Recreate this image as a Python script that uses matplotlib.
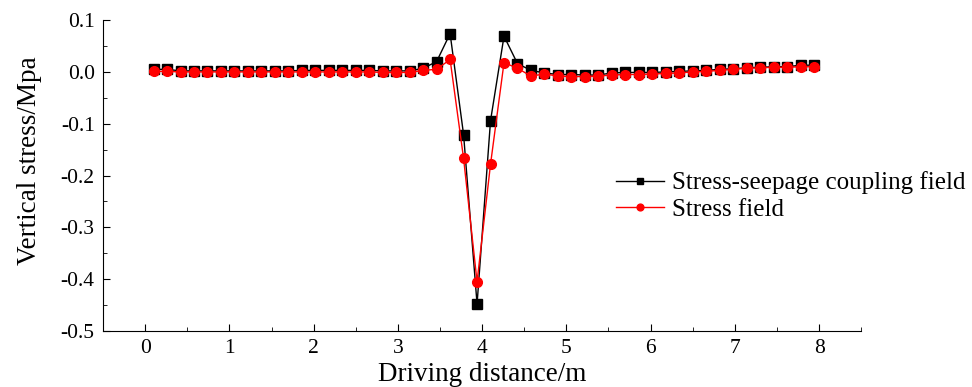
import matplotlib
matplotlib.use('Agg')
import matplotlib.pyplot as plt
from matplotlib.ticker import MultipleLocator, FuncFormatter

plt.rcParams['font.family'] = ['Liberation Serif', 'DejaVu Serif']

# distancia de avance (m)
distance = [0.10, 0.26, 0.42, 0.58, 0.74, 0.90, 1.06, 1.22, 1.38, 1.54,
            1.70, 1.86, 2.02, 2.18, 2.34, 2.50, 2.66, 2.82, 2.98, 3.14,
            3.30, 3.46, 3.62, 3.78, 3.94, 4.10, 4.26, 4.42, 4.58, 4.74,
            4.90, 5.06, 5.22, 5.38, 5.54, 5.70, 5.86, 6.02, 6.18, 6.34,
            6.50, 6.66, 6.82, 6.98, 7.14, 7.30, 7.46, 7.62, 7.78, 7.94]

coupling = [0.005, 0.005, 0.002, 0.002, 0.002, 0.002, 0.002, 0.002, 0.002, 0.002,
            0.002, 0.003, 0.003, 0.003, 0.003, 0.003, 0.003, 0.002, 0.002, 0.002,
            0.007, 0.020, 0.074, -0.121, -0.448, -0.094, 0.069, 0.016, 0.003, -0.002,
            -0.005, -0.005, -0.006, -0.006, -0.002, -0.001, -0.001, -0.001, 0.000, 0.001,
            0.002, 0.003, 0.005, 0.006, 0.008, 0.009, 0.010, 0.010, 0.013, 0.013]

stress = [0.001, 0.001, 0.000, 0.000, 0.000, 0.000, 0.000, 0.000, 0.000, 0.000,
          0.000, 0.000, 0.000, 0.000, 0.000, 0.000, 0.000, -0.001, -0.001, -0.001,
          0.003, 0.005, 0.024, -0.167, -0.405, -0.178, 0.018, 0.007, -0.008, -0.004,
          -0.008, -0.009, -0.009, -0.008, -0.006, -0.005, -0.005, -0.004, -0.003, -0.002,
          0.000, 0.001, 0.003, 0.005, 0.007, 0.008, 0.009, 0.009, 0.010, 0.010]

fig = plt.figure(figsize=(9.72, 3.87), dpi=100)
ax = fig.add_axes([0.106, 0.145, 0.780, 0.803])

ax.plot(distance, coupling, color='black', lw=1.0, marker='s', ms=6.5,
        label='Stress-seepage coupling field')
ax.plot(distance, stress, color='#ff0000', lw=1.0, marker='o', ms=7,
        label='Stress field')

ax.set_xlim(-0.5, 8.5)
ax.set_ylim(-0.5, 0.1)
ax.xaxis.set_major_locator(MultipleLocator(1))
ax.xaxis.set_minor_locator(MultipleLocator(0.5))
ax.yaxis.set_major_locator(MultipleLocator(0.1))
ax.yaxis.set_minor_locator(MultipleLocator(0.05))
ax.yaxis.set_major_formatter(FuncFormatter(lambda v, p: ('%.1f' % v).replace('-0.0', '0.0')))

ax.spines['top'].set_visible(False)
ax.spines['right'].set_visible(False)
ax.tick_params(which='both', direction='in', labelsize=15.5, pad=6)
ax.tick_params(which='major', length=5)
ax.tick_params(which='minor', length=3)

ax.set_xlabel('Driving distance/m', fontsize=19.5, labelpad=3)
ax.set_ylabel('Vertical stress/Mpa', fontsize=19.5)
ax.yaxis.set_label_coords(-0.081, 0.547)

fig.legend(loc='center left', bbox_to_anchor=(0.634, 0.4935), frameon=False,
           fontsize=18, numpoints=1, handlelength=1.9, handletextpad=0.35,
           labelspacing=0.15, borderpad=0, borderaxespad=0, markerscale=0.7)

fig.savefig('out.png', dpi=100)
